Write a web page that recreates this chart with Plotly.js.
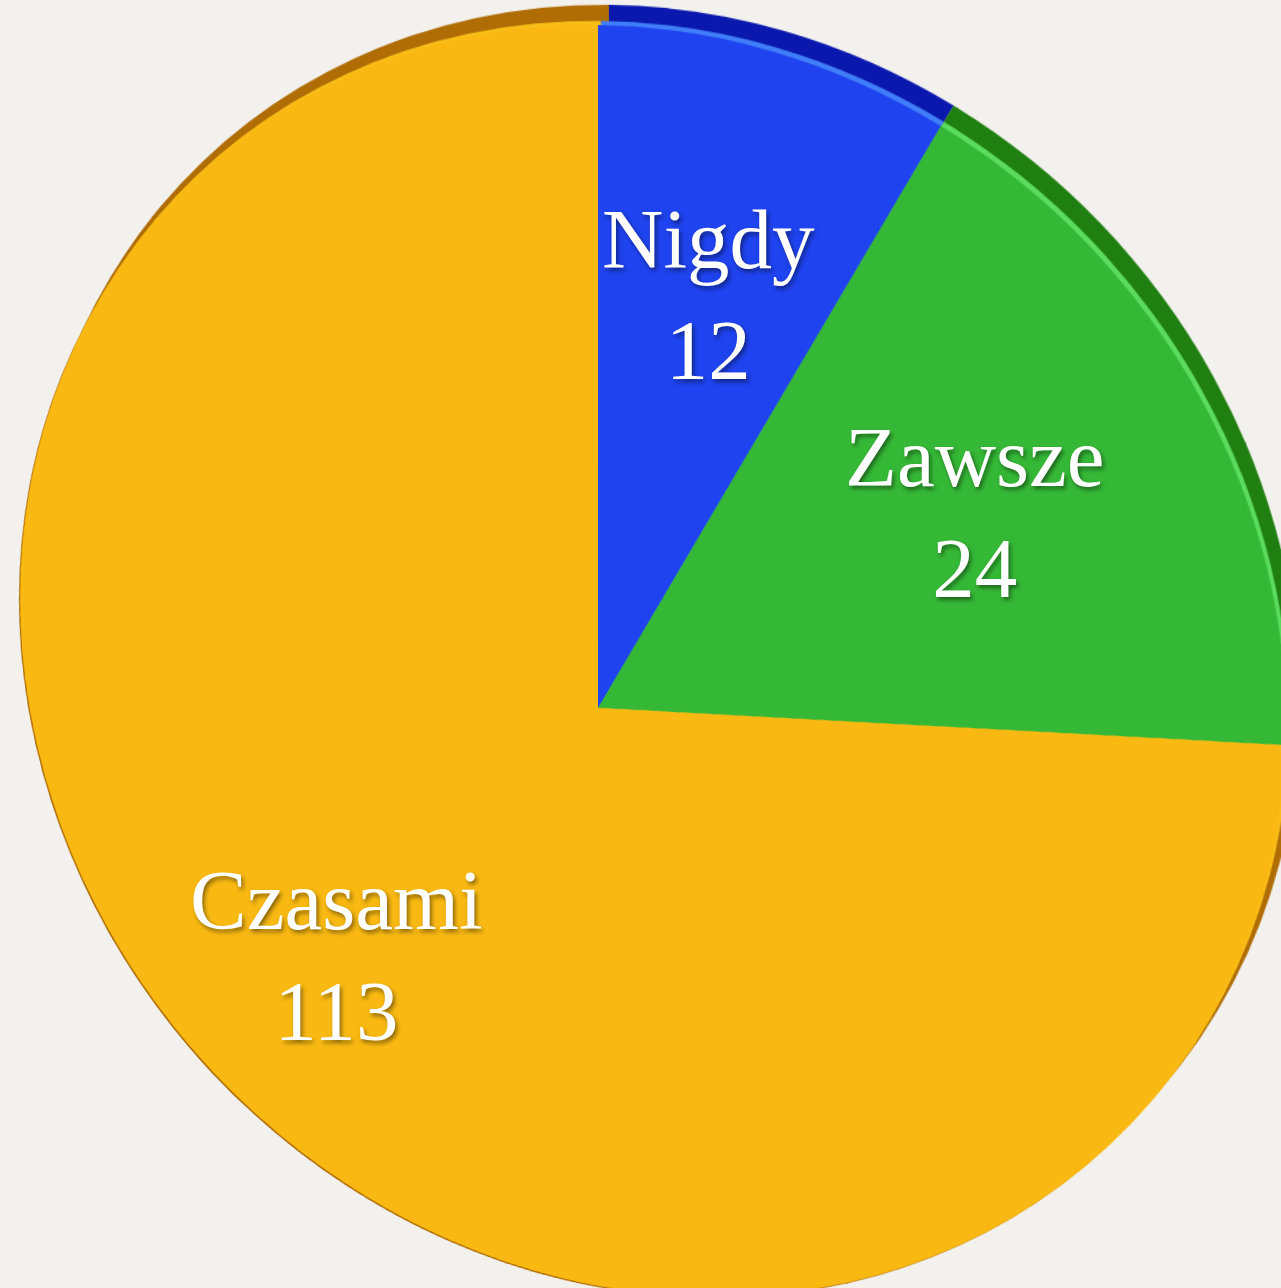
<!DOCTYPE html>
<html>
<head>
<meta charset="utf-8">
<script src="https://cdn.plot.ly/plotly-3.0.1.min.js"></script>
<style>
  html, body { margin: 0; padding: 0; width: 1281px; height: 1288px; overflow: hidden; background: #f3f1ed; }
  #pie { position: absolute; left: -102px; top: 8px; width: 1400px; height: 1400px;
         transform-origin: 700px 700px; }
  #labels { position: absolute; left: 0; top: 0; width: 1281px; height: 1288px; }
</style>
</head>
<body>
<div id="pie"></div>
<div id="labels"></div>
<script>
// ---- data ----
const categories = ["Nigdy", "Zawsze", "Czasami"];
const counts = [12, 24, 113];

// ---- style ----
const sliceColors = ["#1f43ef", "#35b836", "#f9b912"];
const highlightColors = ["#3f7ef8", "#5cdc5e", "#f9bd18"];
const rimColors = ["#0b18ae", "#1f7f10", "#b06d05"];

const W = 1400;            // pie div size (px)
const R = 626;             // pie radius before perspective (px)
const apex = [598, 708];   // where the pie centre lands on the page
// perspective / tilt (projective map around the pie centre)
const SHEAR = 0.107, GX = -0.0868 / R, HY = 0.0834 / R;
document.getElementById("pie").style.transform =
  `matrix3d(1, ${SHEAR}, 0, ${GX}, 0, 1, 0, ${HY}, 0, 0, 1, 0, 0, 0, 0, 1)`;

function project(x, y) {
  const w = 1 + GX * x + HY * y;
  return [apex[0] + x / w, apex[1] + (SHEAR * x + y) / w];
}

const half = R / W;
function layer(colors, sx, sy) {
  return {
    type: "pie",
    labels: categories,
    values: counts,
    sort: false,
    direction: "clockwise",
    rotation: 0,
    textinfo: "none",
    hoverinfo: "skip",
    showlegend: false,
    marker: { colors: colors, line: { width: 0 } },
    domain: { x: [0.5 - half + sx / W, 0.5 + half + sx / W],
              y: [0.5 - half + sy / W, 0.5 + half + sy / W] }
  };
}

const traces = [
  layer(rimColors, 10, 17),        // side of the disc (upper right)
  layer(rimColors, -1.5, -1.5),    // thin dark outline (lower left)
  layer(highlightColors, 2.5, 3.5),// light edge just inside the rim
  layer(sliceColors, 0, 0)         // top face
];

Plotly.newPlot("pie", traces, {
  width: W, height: W,
  margin: { l: 0, r: 0, t: 0, b: 0 },
  paper_bgcolor: "rgba(0,0,0,0)",
  plot_bgcolor: "rgba(0,0,0,0)",
  showlegend: false
}, { displayModeBar: false, staticPlot: true });

// ---- labels on each slice's mid-angle ----
const total = counts.reduce((a, b) => a + b, 0);
let cum = 0;
const annotations = categories.map((name, i) => {
  const mid = (cum + counts[i] / 2) / total * 2 * Math.PI;
  cum += counts[i];
  const k = 0.655 * R;
  const p = project(k * Math.sin(mid), -k * Math.cos(mid));
  return {
    xref: "paper", yref: "paper",
    x: p[0] / 1281, y: 1 - p[1] / 1288,
    xanchor: "center", yanchor: "middle",
    showarrow: false,
    text: name + "<br>" + counts[i],
    font: { family: "Liberation Serif, DejaVu Serif, serif", size: 85, color: "#ffffff",
            shadow: "2px 3px 4px rgba(0,0,0,0.45)" }
  };
});

Plotly.newPlot("labels", [], {
  width: 1281, height: 1288,
  margin: { l: 0, r: 0, t: 0, b: 0 },
  paper_bgcolor: "rgba(0,0,0,0)",
  plot_bgcolor: "rgba(0,0,0,0)",
  xaxis: { visible: false }, yaxis: { visible: false },
  annotations: annotations
}, { displayModeBar: false, staticPlot: true });
</script>
</body>
</html>
